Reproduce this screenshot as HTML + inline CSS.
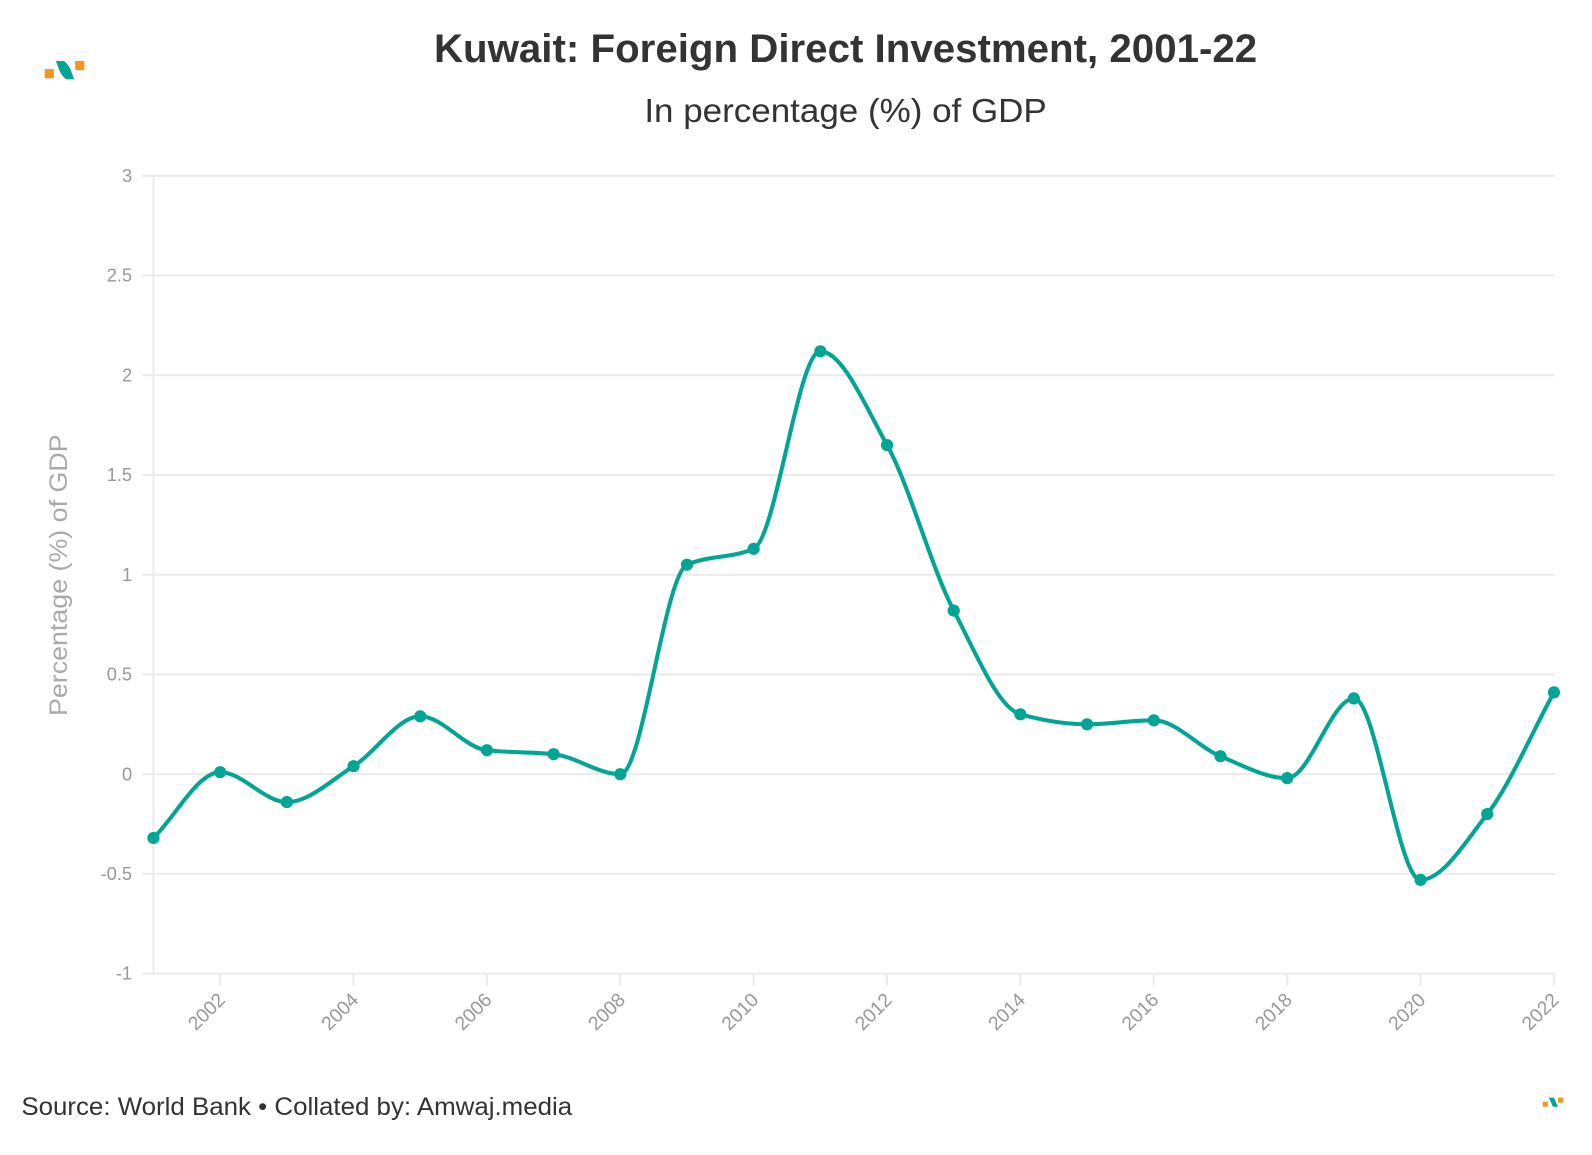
<!DOCTYPE html>
<html><head><meta charset="utf-8"><style>
body{margin:0;background:#fff;width:1592px;height:1150px;overflow:hidden;font-family:"Liberation Sans",sans-serif}
</style></head><body>
<svg id="chart" width="1592" height="1150" xmlns="http://www.w3.org/2000/svg" font-family="Liberation Sans, sans-serif">
<g transform="scale(1.0163)">
<g>
<rect x="44" y="68" width="9" height="9" fill="#f7941d"/>
<path d="M55 60 L63 60 Q68 64 70 70 L73 78 L65 78 Q60 74 58 68 Z" fill="#00a693"/>
<rect x="74" y="60" width="9" height="9" fill="#f7941d"/>
</g>
<text x="832" y="61" text-anchor="middle" font-size="39" font-weight="bold" fill="#333" textLength="810" lengthAdjust="spacingAndGlyphs">Kuwait: Foreign Direct Investment, 2001-22</text>
<text x="832" y="120" text-anchor="middle" font-size="33" fill="#333" textLength="396" lengthAdjust="spacingAndGlyphs">In percentage (%) of GDP</text>
<text transform="translate(66,566) rotate(-90)" text-anchor="middle" font-size="25" fill="#aaa" textLength="277" lengthAdjust="spacingAndGlyphs">Percentage (%) of GDP</text>
<g id="grid"></g><g id="xaxis"></g>
<path id="line" fill="none" stroke="#00a693" stroke-width="4"/>
<g id="points"></g>
<text x="21" y="1097" font-size="25" fill="#333" textLength="542" lengthAdjust="spacingAndGlyphs">Source: World Bank • Collated by: Amwaj.media</text>
<g>
<rect x="1518" y="1084" width="5" height="5" fill="#f7941d"/>
<path d="M1524 1080 L1529 1080 L1533 1089 L1528 1089 Z" fill="#00a693"/>
<rect x="1533" y="1080" width="5" height="5" fill="#f7941d"/>
</g>
</g>
</svg>
<script>
const years=[2001,2002,2003,2004,2005,2006,2007,2008,2009,2010,2011,2012,2013,2014,2015,2016,2017,2018,2019,2020,2021,2022];
const values=[-0.32,0.01,-0.14,0.04,0.29,0.12,0.10,0.00,1.05,1.13,2.12,1.65,0.82,0.30,0.25,0.27,0.09,-0.02,0.38,-0.53,-0.20,0.41];
const yTicks=[-1,-0.5,0,0.5,1,1.5,2,2.5,3];
const xTicks=[2002,2004,2006,2008,2010,2012,2014,2016,2018,2020,2022];
const NS="http://www.w3.org/2000/svg";
const x=v=>151+(v-2001)*(1378/21);
const y=v=>958-(v+1)*(785/4);
function mk(t,a,p){const e=document.createElementNS(NS,t);for(const k in a)e.setAttribute(k,a[k]);p.appendChild(e);return e;}
const grid=document.getElementById('grid');
yTicks.forEach(t=>{
 const l=mk('line',{x1:140,x2:1530,y1:y(t),y2:y(t),stroke:'#ebebeb','stroke-width':2},grid);
 
 
 const tx=mk('text',{x:130,y:y(t)+6,'text-anchor':'end','font-size':18,fill:'#999'},grid);
 
 
 tx.textContent=String(t);
});
const xa=document.getElementById('xaxis');
const ax=mk('line',{x1:151,x2:151,y1:173,y2:958,stroke:'#ebebeb','stroke-width':2},xa);


xTicks.forEach(t=>{
 const l=mk('line',{x1:x(t),x2:x(t),y1:958,y2:970,stroke:'#ebebeb','stroke-width':2},xa);
 
 
 const tx=mk('text',{transform:`translate(${x(t)+6},${985}) rotate(-45)`,'text-anchor':'end','font-size':19,fill:'#999'},xa);
 
 
 tx.textContent=String(t);
});
const P=years.map((yr,i)=>[x(yr),y(values[i])]);
const n=P.length,d=[],m=[];
for(let i=0;i<n-1;i++)d.push((P[i+1][1]-P[i][1])/(P[i+1][0]-P[i][0]));
for(let i=0;i<n;i++){
 if(i==0)m.push(d[0]);else if(i==n-1)m.push(d[n-2]);
 else m.push(d[i-1]*d[i]<=0?0:2/(1/d[i-1]+1/d[i]));
}
let s=`M${P[0][0]},${P[0][1]}`;
for(let i=0;i<n-1;i++){const h=(P[i+1][0]-P[i][0])/3;
 s+=` C${P[i][0]+h},${P[i][1]+m[i]*h} ${P[i+1][0]-h},${P[i+1][1]-m[i+1]*h} ${P[i+1][0]},${P[i+1][1]}`;}
document.getElementById('line').setAttribute('d',s);
const pts=document.getElementById('points');
P.forEach(p=>{
 const c=mk('circle',{cx:p[0],cy:p[1],r:6,fill:'#00a693'},pts);
 
 
});
</script>
</body></html>
